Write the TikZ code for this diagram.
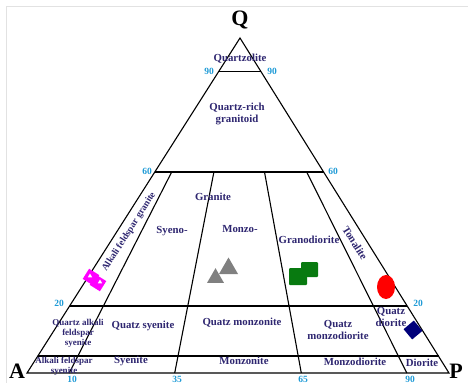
\documentclass[tikz,border=0pt]{standalone}
\usepackage{fontspec}
\setmainfont{Liberation Serif}
\usetikzlibrary{shapes.geometric}
\definecolor{rocktext}{HTML}{2E2670}
\definecolor{ticknum}{HTML}{1E9AD6}
\definecolor{darknavy}{HTML}{00007A}
\definecolor{darkgreen}{HTML}{087A10}
\definecolor{brightmag}{HTML}{FF00FF}
\definecolor{framegray}{HTML}{E2E2E2}
\tikzset{
  field/.style={font=\bfseries\fontsize{10.8}{12}\selectfont, text=rocktext, align=center, inner sep=0pt},
  smallfield/.style={field, font=\bfseries\fontsize{9}{10}\selectfont},
  ticklabel/.style={font=\bfseries\fontsize{9.5}{10}\selectfont, text=ticknum, inner sep=0pt},
  apex/.style={font=\bfseries\fontsize{22}{24}\selectfont, inner sep=0pt},
  border/.style={line width=1.1pt},
}
\begin{document}
\begin{tikzpicture}[x=1pt,y=-1pt]
\useasboundingbox (0,0) rectangle (468,383);
\draw[framegray] (6,383) -- (6,6) -- (468,6);

% corners
\coordinate (A) at (27,373);
\coordinate (P) at (449,373);
\coordinate (Q) at (240,38);
\node[apex] (Qlab) at (240,20) {Q};
\node[apex] (Alab) at (17,371) {A};
\node[apex] (Plab) at (456,371) {P};

% Q levels
\coordinate (q90l) at (218.7,71.5);
\coordinate (q90r) at (260.9,71.5);
\coordinate (q60l) at (154.8,172);
\coordinate (q60r) at (323.6,172);
\coordinate (q20l) at (69.6,306);
\coordinate (q20r) at (407.2,306);
\coordinate (q5l) at (37.7,356);
\coordinate (q5r) at (438.5,356);

% P/(A+P) dividers
\coordinate (d10b) at (69.2,373);
\coordinate (d10t) at (171.7,172);
\coordinate (d35b) at (174.7,373);
\coordinate (d35t) at (213.9,172);
\coordinate (d65b) at (301.3,373);
\coordinate (d65t) at (264.5,172);
\coordinate (d90b) at (406.8,373);
\coordinate (d90t) at (306.7,172);

\draw[border, line join=miter] (A) -- (P) -- (Q) -- cycle;
\draw[border] (q90l) -- (q90r);
\draw[border] (q60l) -- (q60r);
\draw[border] (q20l) -- (q20r);
\draw[border] (q5l) -- (q5r);
\draw[border] (d10b) -- (d10t);
\draw[border] (d35b) -- (d35t);
\draw[border] (d65b) -- (d65t);
\draw[border] (d90b) -- (d90t);

% ticks
\node[ticklabel] (t90l) at (209,71) {90};
\node[ticklabel] (t90r) at (272,71) {90};
\node[ticklabel] (t60l) at (147,171) {60};
\node[ticklabel] (t60r) at (333,171) {60};
\node[ticklabel] (t20l) at (59,303) {20};
\node[ticklabel] (t20r) at (418,303) {20};
\node[ticklabel] (t10) at (72,379) {10};
\node[ticklabel] (t35) at (177,379) {35};
\node[ticklabel] (t65) at (303,379) {65};
\node[ticklabel] (t90) at (410,379) {90};

% fields
\node[field] (qtzolite) at (240,59) {Quartzolite};
\node[field] (qtzrich) at (237,114) {Quartz-rich\\granitoid};
\node[field] (granite) at (213,197) {Granite};
\node[field] (syeno) at (172,231) {Syeno-};
\node[field] (monzo) at (240,229) {Monzo-};
\node[field] (granodio) at (309,240) {Granodiorite};
\node[field, font=\bfseries\fontsize{9.5}{10}\selectfont, rotate=57.5] (afgranite) at (129,232) {Alkali feldspar granite};
\node[field, rotate=-58] (tonalite) at (355,243) {Tonalite};
\node[smallfield] (qafsyen) at (78,333) {Quartz alkali\\feldspar\\syenite};
\node[field] (qsyen) at (143,326) {Quatz syenite};
\node[field] (qmonzon) at (242,323) {Quatz monzonite};
\node[field] (qmonzodio) at (338,330) {Quatz\\monzodiorite};
\node[field] (qdio) at (391,317) {Quatz\\diorite};
\node[smallfield] (afsyen) at (64,366) {Alkali feldspar\\syenite};
\node[field] (syen) at (131,361) {Syenite};
\node[field] (monzon) at (244,361) {Monzonite};
\node[field] (monzodio) at (355,362) {Monzodiorite};
\node[field] (dio) at (422,363) {Diorite};

% samples
\node[fill=brightmag, minimum size=12, inner sep=0pt, rotate=-32] (mag1) at (91,277) {};
\node[fill=brightmag, minimum size=12, inner sep=0pt, rotate=-32] (mag2) at (98,283) {};
\node[fill=white, regular polygon, regular polygon sides=3, minimum size=5, inner sep=0pt] (magw1) at (90,276) {};
\node[fill=white, regular polygon, regular polygon sides=3, minimum size=5, inner sep=0pt] (magw2) at (100,282) {};
\node[fill=gray, regular polygon, regular polygon sides=3, minimum size=22, inner sep=0pt] (tri2) at (228.5,268.5) {};
\node[fill=gray, regular polygon, regular polygon sides=3, minimum size=19.6, inner sep=0pt] (tri1) at (215.5,278) {};
\node[fill=darkgreen, minimum width=17, minimum height=15, inner sep=0pt, rounded corners=1pt] (sq2) at (309.5,269.5) {};
\node[fill=darkgreen, minimum width=18, minimum height=17, inner sep=0pt, rounded corners=1pt] (sq1) at (298,276.5) {};
\node[fill=red, ellipse, minimum width=18, minimum height=24, inner sep=0pt] (redov) at (386,287) {};
\node[fill=darknavy, minimum size=13.4, inner sep=0pt, rotate=40] (navyd) at (413,330) {};

\end{tikzpicture}
\end{document}
